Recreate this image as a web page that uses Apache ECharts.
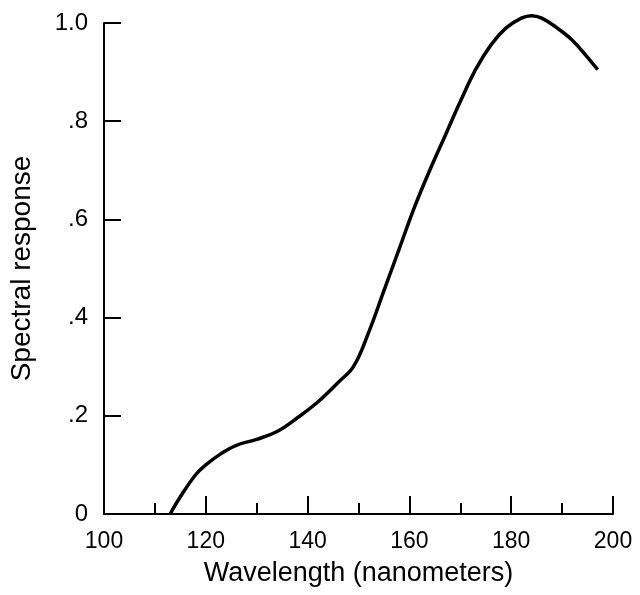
<!DOCTYPE html>
<html>
<head>
<meta charset="utf-8">
<script src="https://cdn.jsdelivr.net/npm/echarts@6/dist/echarts.min.js"></script>
<style>html,body{margin:0;padding:0;background:#fff;}#c{width:640px;height:595px;}</style>
</head>
<body>
<div id="c"></div>
<script>
const wavelength = [113,115,118,120,123,126,130,134,138,142,146,149,152,155,158,161,164,167,170,173,176,179,182,184,186,189,192,195,197];
const response   = [0,0.035,0.08,0.1,0.123,0.14,0.152,0.168,0.196,0.228,0.268,0.30,0.37,0.455,0.54,0.625,0.70,0.77,0.84,0.905,0.955,0.99,1.01,1.015,1.01,0.99,0.965,0.93,0.905];
const xTitle = 'Wavelength (nanometers)';
const yTitle = 'Spectral response';

const points = wavelength.map((w, i) => [w, response[i]]);
const font = '"Liberation Sans", Arial, sans-serif';
const chart = echarts.init(document.getElementById('c'), null, {renderer: 'canvas'});
chart.setOption({
  animation: false,
  backgroundColor: '#fff',
  grid: {left: 103, right: 27, top: 23, bottom: 81},
  xAxis: {
    type: 'value', min: 100, max: 200, interval: 20,
    name: xTitle, nameLocation: 'middle', nameGap: 46,
    nameTextStyle: {fontFamily: font, fontSize: 27, color: '#000'},
    axisLine: {lineStyle: {color: '#000', width: 2}},
    axisTick: {inside: true, length: 18, lineStyle: {color: '#000', width: 2}},
    minorTick: {show: true, splitNumber: 2, length: 11, lineStyle: {color: '#000', width: 2}},
    axisLabel: {fontFamily: font, fontSize: 23, color: '#000', margin: 16},
    splitLine: {show: false}
  },
  yAxis: {
    type: 'value', min: 0, max: 1, interval: 0.2,
    name: yTitle, nameLocation: 'middle', nameGap: 68,
    nameTextStyle: {fontFamily: font, fontSize: 28, color: '#000'},
    axisLine: {show: true, lineStyle: {color: '#000', width: 2}},
    axisTick: {show: true, inside: true, length: 17, lineStyle: {color: '#000', width: 2}},
    axisLabel: {fontFamily: font, fontSize: 24, color: '#000', margin: 16,
      formatter: v => v === 0 ? '0' : (v === 1 ? '1.0' : String(Math.round(v*10)/10).replace(/^0/, ''))},
    splitLine: {show: false}
  },
  series: [{
    type: 'line', data: points, smooth: 0.4, showSymbol: false, clip: false,
    lineStyle: {color: '#000', width: 3.5}
  }]
});
</script>
</body>
</html>
